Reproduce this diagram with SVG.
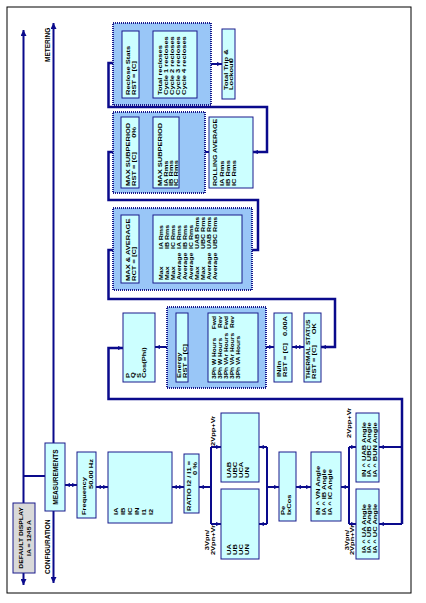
<svg xmlns="http://www.w3.org/2000/svg" width="426" height="603" viewBox="0 0 426 603">
<defs>
<marker id="ah" viewBox="0 0 10 10" refX="10" refY="5" markerWidth="5" markerHeight="5" markerUnits="userSpaceOnUse" orient="auto-start-reverse"><path d="M0,1L10,5L0,9z" fill="#0a0a8c"/></marker>
<marker id="big" viewBox="0 0 10 10" refX="10" refY="5" markerWidth="7" markerHeight="6" markerUnits="userSpaceOnUse" orient="auto-start-reverse"><path d="M0,0L10,5L0,10z" fill="#0a0a8c"/></marker>
<style>
.box{fill:#ccffff;stroke:#1a1a8c;stroke-width:1}
.gry{fill:#d9d9d9;stroke:#1a1a8c;stroke-width:1}
.grp{fill:#99c6f7;stroke:#1a1a8c;stroke-width:2;stroke-dasharray:1 1}
.ln{fill:none;stroke:#0a0a8c;stroke-width:2}
.fb{fill:none;stroke:#0a0a8c;stroke-width:2.5}
.a2{marker-start:url(#ah);marker-end:url(#ah)}
.as{marker-start:url(#ah)}
.ae{marker-end:url(#ah)}
.t{font-family:"Liberation Sans",Arial,sans-serif;font-size:7.5px;font-weight:bold;fill:#000}
.s{font-size:7px}
.xs{font-size:6.6px}
.h{font-family:"Liberation Sans",Arial,sans-serif;font-size:6.5px;font-weight:bold;fill:#000}
.m{text-anchor:middle}
.e{text-anchor:end}
</style>
</defs>
<rect x="7" y="7" width="404" height="586" fill="#fff" stroke="#000" stroke-width="1"/>

<g id="connectors">
<path class="ln" d="M23.5,30V585" marker-start="url(#big)" marker-end="url(#big)"/>
<path class="ln" d="M53.5,23V583" marker-start="url(#big)" marker-end="url(#big)"/>
<path class="ln" d="M23.5,476H45"/>
<path class="ln a2" d="M65,485H77"/>
<path class="ln a2" d="M96,487H108"/>
<path class="ln a2" d="M172,487H184"/>
<path class="ln as" d="M199,487H211"/>
<path class="ln" d="M211,447V524"/>
<path class="ln ae" d="M211,447H221"/>
<path class="ln ae" d="M211,524H221"/>
<path class="ln as" d="M259,447H267"/>
<path class="ln as" d="M259,524H267"/>
<path class="ln" d="M267,447V524"/>
<path class="ln ae" d="M267,487H279"/>
<path class="ln a2" d="M296,487H311"/>
<path class="ln as" d="M341,487H349"/>
<path class="ln" d="M349,447V524"/>
<path class="ln ae" d="M349,447H356"/>
<path class="ln ae" d="M349,524H356"/>
<path class="ln as" d="M379,447H402"/>
<path class="ln as" d="M379,524H402"/>
<path class="fb ae" d="M402,524V399H108.5V348H123"/>
<path class="ln a2" d="M155,347H176"/>
<path class="ln a2" d="M188,347H208"/>
<path class="ln a2" d="M258,347H274"/>
<path class="ln a2" d="M292,347H304"/>
<path class="fb a2" d="M321,347H335V299H108.5V250H121"/>
<path class="ln a2" d="M139,250H153"/>
<path class="fb a2" d="M242,250H258V200H108.5V152H121"/>
<path class="ln a2" d="M139,152H153"/>
<path class="ln a2" d="M179,152H209"/>
<path class="fb a2" d="M253,152H267V107H108.5V63H122"/>
<path class="ln a2" d="M139,63H153"/>
<path class="ln a2" d="M197,64H222"/>
</g>

<text class="h" transform="translate(50 62) rotate(-90)">METERING</text>
<text class="h" transform="translate(50 574) rotate(-90)">CONFIGURATION</text>

<g id="default-display">
<rect class="gry" x="13" y="503" width="22" height="70"/>
<text class="t m" transform="translate(22.5 538) rotate(-90) scale(1 .7)" style="font-size:6.8px">DEFAULT DISPLAY</text>
<text class="t m" transform="translate(31 538) rotate(-90) scale(1 .7)" style="font-size:6.8px">IA = 1245 A</text>
</g>

<g id="measurements">
<rect class="box" x="45" y="443" width="20" height="68"/>
<text class="h m" transform="translate(57.5 477) rotate(-90)">MEASUREMENTS</text>
</g>

<g id="frequency">
<rect class="box" x="77" y="452" width="19" height="66"/>
<text class="t" transform="translate(85.5 515) rotate(-90) scale(1 .68)">Frequency</text>
<text class="t e" transform="translate(93 459) rotate(-90) scale(1 .68)">50.00 Hz</text>
</g>

<g id="currents">
<rect class="box" x="108" y="452" width="64" height="71"/>
<text class="t" transform="translate(118 515) rotate(-90) scale(1 .68)">IA</text>
<text class="t" transform="translate(125 515) rotate(-90) scale(1 .68)">IB</text>
<text class="t" transform="translate(132 515) rotate(-90) scale(1 .68)">IC</text>
<text class="t" transform="translate(139 515) rotate(-90) scale(1 .68)">IN</text>
<text class="t" transform="translate(146 515) rotate(-90) scale(1 .68)">I1</text>
<text class="t" transform="translate(153 515) rotate(-90) scale(1 .68)">I2</text>
</g>

<g id="ratio">
<rect class="box" x="184" y="454" width="15" height="59"/>
<text class="t" transform="translate(190.5 511) rotate(-90) scale(1 .68)">RATIO I2 / I1 =</text>
<text class="t e" transform="translate(197 462) rotate(-90) scale(1 .68)">0 %</text>
</g>

<text class="t" transform="translate(214.5 446) rotate(-90) scale(1 .68)">2Vpp+Vr</text>
<text class="t m" transform="translate(209 540) rotate(-90) scale(1 .68)">3Vpn/</text>
<text class="t m" transform="translate(214.5 540) rotate(-90) scale(1 .68)">2Vpn+Vr</text>

<g id="line-voltages">
<rect class="box" x="221" y="413" width="38" height="69"/>
<text class="t" transform="translate(231 478) rotate(-90) scale(1 .68)">UAB</text>
<text class="t" transform="translate(237 478) rotate(-90) scale(1 .68)">UBC</text>
<text class="t" transform="translate(243 478) rotate(-90) scale(1 .68)">UCA</text>
<text class="t" transform="translate(249 478) rotate(-90) scale(1 .68)">UN</text>
</g>

<g id="phase-voltages">
<rect class="box" x="221" y="489" width="38" height="70"/>
<text class="t" transform="translate(231 555) rotate(-90) scale(1 .68)">UA</text>
<text class="t" transform="translate(237 555) rotate(-90) scale(1 .68)">UB</text>
<text class="t" transform="translate(243 555) rotate(-90) scale(1 .68)">UC</text>
<text class="t" transform="translate(249 555) rotate(-90) scale(1 .68)">UN</text>
</g>

<g id="pe">
<rect class="box" x="279" y="452" width="17" height="69"/>
<text class="t" transform="translate(285 515) rotate(-90) scale(1 .68)">Pe</text>
<text class="t" transform="translate(290.5 515) rotate(-90) scale(1 .68)">IxCos</text>
</g>

<g id="current-angles">
<rect class="box" x="311" y="452" width="30" height="69"/>
<text class="t" transform="translate(320 515) rotate(-90) scale(1 .68)">IN ^ VN Angle</text>
<text class="t" transform="translate(326 515) rotate(-90) scale(1 .68)">IA ^ IB Angle</text>
<text class="t" transform="translate(332 515) rotate(-90) scale(1 .68)">IA ^ IC Angle</text>
</g>

<text class="t" transform="translate(351 438) rotate(-90) scale(1 .68)">2Vpp+Vr</text>
<text class="t m" transform="translate(348.5 540) rotate(-90) scale(1 .68)">3Vpn/</text>
<text class="t m" transform="translate(354 540) rotate(-90) scale(1 .68)">2Vpn+Vr</text>

<g id="line-angles">
<rect class="box" x="356" y="413" width="23" height="69"/>
<text class="t" transform="translate(365.5 477) rotate(-90) scale(1 .68)">IN ^ UAB Angle</text>
<text class="t" transform="translate(371 477) rotate(-90) scale(1 .68)">IA ^ UBC Angle</text>
<text class="t" transform="translate(376.5 477) rotate(-90) scale(1 .68)">IA ^ BUN Angle</text>
</g>

<g id="phase-angles">
<rect class="box" x="356" y="489" width="23" height="70"/>
<text class="t" transform="translate(365.5 553) rotate(-90) scale(1 .68)">IA ^ UA Angle</text>
<text class="t" transform="translate(371 553) rotate(-90) scale(1 .68)">IA ^ UB Angle</text>
<text class="t" transform="translate(376.5 553) rotate(-90) scale(1 .68)">IA ^ UC Angle</text>
</g>

<g id="power">
<rect class="box" x="123" y="313" width="32" height="69"/>
<text class="t" transform="translate(129.5 378) rotate(-90) scale(1 .68)">P</text>
<text class="t" transform="translate(135 378) rotate(-90) scale(1 .68)">Q</text>
<text class="t" transform="translate(140.5 378) rotate(-90) scale(1 .68)">S</text>
<text class="t" transform="translate(146 378) rotate(-90) scale(1 .68)">Cos(Phi)</text>
</g>

<g id="energy-group">
<rect class="grp" x="167" y="307" width="99" height="81"/>
</g>
<g id="energy">
<rect class="box" x="176" y="313" width="12" height="69"/>
<text class="t" transform="translate(181 378) rotate(-90) scale(1 .68)">Energy</text>
<text class="t" transform="translate(186.5 378) rotate(-90) scale(1 .68)">RST = [C]</text>
</g>
<g id="energy-values">
<rect class="box" x="208" y="313" width="50" height="69"/>
<text class="t xs" transform="translate(216 379) rotate(-90) scale(1 .72)">3Ph W Hours</text>
<text class="t xs e" transform="translate(216 316) rotate(-90) scale(1 .72)">Fwd</text>
<text class="t xs" transform="translate(222 379) rotate(-90) scale(1 .72)">3Ph W Hours</text>
<text class="t xs e" transform="translate(222 316) rotate(-90) scale(1 .72)">Rev</text>
<text class="t xs" transform="translate(228 379) rotate(-90) scale(1 .72)">3Ph VAr Hours</text>
<text class="t xs e" transform="translate(228 316) rotate(-90) scale(1 .72)">Fwd</text>
<text class="t xs" transform="translate(234 379) rotate(-90) scale(1 .72)">3Ph VAr Hours</text>
<text class="t xs e" transform="translate(234 316) rotate(-90) scale(1 .72)">Rev</text>
<text class="t xs" transform="translate(240 379) rotate(-90) scale(1 .72)">3Ph VA Hours</text>
</g>

<g id="in-ratio">
<rect class="box" x="274" y="313" width="18" height="69"/>
<text class="t" transform="translate(281 377) rotate(-90) scale(1 .68)">IN/In</text>
<text class="t" transform="translate(287 377) rotate(-90) scale(1 .68)">RST = [C]</text>
<text class="t e" transform="translate(287 316) rotate(-90) scale(1 .68)">0.00A</text>
</g>

<g id="thermal">
<rect class="box" x="304" y="313" width="17" height="69"/>
<text class="t xs" transform="translate(310 379) rotate(-90) scale(1 .72)">THERMAL STATUS</text>
<text class="t" transform="translate(316 379) rotate(-90) scale(1 .68)">RST = [C]</text>
<text class="t e" transform="translate(316 323) rotate(-90) scale(1 .68)">OK</text>
</g>

<g id="max-average-group">
<rect class="grp" x="113" y="208" width="139" height="82"/>
</g>
<g id="max-average">
<rect class="box" x="121" y="215" width="18" height="68"/>
<text class="t" transform="translate(129.5 281) rotate(-90) scale(1 .68)">MAX &amp; AVERAGE</text>
<text class="t" transform="translate(136 281) rotate(-90) scale(1 .68)">RCT = [C]</text>
</g>
<g id="max-average-values">
<rect class="box" x="153" y="215" width="89" height="68"/>
<text class="t s" transform="translate(163 280) rotate(-90) scale(1 .7)">Max</text>
<text class="t s" transform="translate(163 249) rotate(-90) scale(1 .7)">IA Rms</text>
<text class="t s" transform="translate(169 280) rotate(-90) scale(1 .7)">Max</text>
<text class="t s" transform="translate(169 249) rotate(-90) scale(1 .7)">IB Rms</text>
<text class="t s" transform="translate(175 280) rotate(-90) scale(1 .7)">Max</text>
<text class="t s" transform="translate(175 249) rotate(-90) scale(1 .7)">IC Rms</text>
<text class="t s" transform="translate(181 280) rotate(-90) scale(1 .7)">Average</text>
<text class="t s" transform="translate(181 249) rotate(-90) scale(1 .7)">IA Rms</text>
<text class="t s" transform="translate(187 280) rotate(-90) scale(1 .7)">Average</text>
<text class="t s" transform="translate(187 249) rotate(-90) scale(1 .7)">IB Rms</text>
<text class="t s" transform="translate(193 280) rotate(-90) scale(1 .7)">Average</text>
<text class="t s" transform="translate(193 249) rotate(-90) scale(1 .7)">IC Rms</text>
<text class="t s" transform="translate(199 280) rotate(-90) scale(1 .7)">Max</text>
<text class="t s" transform="translate(199 249) rotate(-90) scale(1 .7)">UAB Rms</text>
<text class="t s" transform="translate(205 280) rotate(-90) scale(1 .7)">Max</text>
<text class="t s" transform="translate(205 249) rotate(-90) scale(1 .7)">UBC Rms</text>
<text class="t s" transform="translate(211 280) rotate(-90) scale(1 .7)">Average</text>
<text class="t s" transform="translate(211 249) rotate(-90) scale(1 .7)">UAB Rms</text>
<text class="t s" transform="translate(217 280) rotate(-90) scale(1 .7)">Average</text>
<text class="t s" transform="translate(217 249) rotate(-90) scale(1 .7)">UBC Rms</text>
</g>

<g id="max-subperiod-group">
<rect class="grp" x="113" y="112" width="92" height="81"/>
</g>
<g id="max-subperiod">
<rect class="box" x="121" y="117" width="18" height="71"/>
<text class="t" transform="translate(129.5 186) rotate(-90) scale(1 .68)">MAX SUBPERIOD</text>
<text class="t" transform="translate(136 186) rotate(-90) scale(1 .68)">RST = [C]</text>
<text class="t e" transform="translate(136 127) rotate(-90) scale(1 .68)">0%</text>
</g>
<g id="max-subperiod-values">
<rect class="box" x="153" y="117" width="26" height="71"/>
<text class="t" transform="translate(162 186) rotate(-90) scale(1 .68)">MAX SUBPERIOD</text>
<text class="t" transform="translate(168 186) rotate(-90) scale(1 .68)">IA Rms</text>
<text class="t" transform="translate(173 186) rotate(-90) scale(1 .68)">IB Rms</text>
<text class="t" transform="translate(178 186) rotate(-90) scale(1 .68)">IC Rms</text>
</g>

<g id="rolling-average">
<rect class="box" x="209" y="117" width="44" height="71"/>
<text class="t s" transform="translate(217 186) rotate(-90) scale(1 .7)">ROLLING AVERAGE</text>
<text class="t" transform="translate(224 186) rotate(-90) scale(1 .68)">IA Rms</text>
<text class="t" transform="translate(230 186) rotate(-90) scale(1 .68)">IB Rms</text>
<text class="t" transform="translate(236 186) rotate(-90) scale(1 .68)">IC Rms</text>
</g>

<g id="reclose-group">
<rect class="grp" x="113" y="23" width="98" height="82"/>
</g>
<g id="reclose-stats">
<rect class="box" x="122" y="31" width="17" height="67"/>
<text class="t" transform="translate(129.5 95) rotate(-90) scale(1 .68)">Reclose Stats</text>
<text class="t" transform="translate(136 95) rotate(-90) scale(1 .68)">RST = [C]</text>
</g>
<g id="reclose-values">
<rect class="box" x="153" y="31" width="44" height="67"/>
<text class="t" transform="translate(162 95) rotate(-90) scale(1 .68)">Total recloses</text>
<text class="t" transform="translate(168 95) rotate(-90) scale(1 .68)">Cycle 1 recloses</text>
<text class="t" transform="translate(174 95) rotate(-90) scale(1 .68)">Cycle 2 recloses</text>
<text class="t" transform="translate(180 95) rotate(-90) scale(1 .68)">Cycle 3 recloses</text>
<text class="t" transform="translate(186 95) rotate(-90) scale(1 .68)">Cycle 4 recloses</text>
</g>

<g id="total-trip">
<rect class="box" x="222" y="29" width="13" height="70"/>
<text class="t" transform="translate(227.5 90) rotate(-90) scale(1 .68)">Total Trip &amp;</text>
<text class="t" transform="translate(233 90) rotate(-90) scale(1 .68)">Lockout</text>
<text class="t e" transform="translate(233 58) rotate(-90) scale(1 .68)">0</text>
</g>
</svg>
